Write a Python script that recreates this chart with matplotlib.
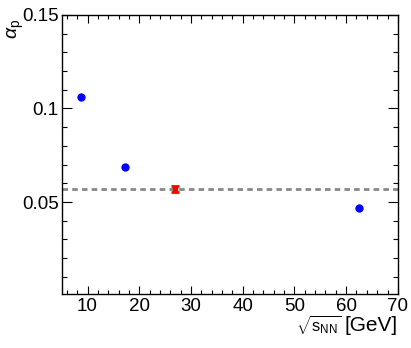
import numpy as np
import matplotlib.pyplot as plt
from matplotlib.ticker import MultipleLocator

plt.rcParams['font.family'] = ['Liberation Sans', 'DejaVu Sans']
plt.rcParams['mathtext.fontset'] = 'custom'
plt.rcParams['mathtext.rm'] = 'Liberation Sans'
plt.rcParams['mathtext.it'] = 'Liberation Sans:italic'

# data
energies = [8.8, 17.3, 62.4]
alpha_p = [0.106, 0.0686, 0.0467]
fit_energy = [27.0]
fit_alpha = [0.0569]
fit_err = [0.0018]
avg_alpha = 0.0569

fig = plt.figure(figsize=(4.11, 3.48), dpi=100)
ax = fig.add_axes([0.150, 0.155, 0.818, 0.802])

ax.axhline(avg_alpha, color='#888888', lw=2, ls=(0, (2, 1.5)), zorder=1)
ax.plot(energies, alpha_p, 'o', color='#0000ff', ms=6, mec='none', zorder=3)
ax.errorbar(fit_energy, fit_alpha, yerr=fit_err, fmt='s', color='#ff0000',
            ms=3, elinewidth=2.5, capsize=3, capthick=2, zorder=4)

ax.set_xlim(5, 70)
ax.set_ylim(0.0008, 0.15)
ax.xaxis.set_major_locator(MultipleLocator(10))
ax.xaxis.set_minor_locator(MultipleLocator(2))
ax.set_yticks([0.05, 0.1, 0.15])
ax.set_yticklabels(['0.05', '0.1', '0.15'])
ax.yaxis.set_minor_locator(MultipleLocator(0.01))
ax.tick_params(which='both', direction='in', top=True, right=True, labelsize=13.5, width=0.8)
ax.tick_params(axis='y', which='major', length=7.2, pad=2)
ax.tick_params(axis='y', which='minor', length=3.6)
ax.tick_params(axis='x', which='major', length=6, pad=3)
ax.tick_params(axis='x', which='minor', length=3)
for s in ax.spines.values():
    s.set_linewidth(1)

# x title: compact sqrt part plus larger unit part
ax.text(1.0, -0.111, '[GeV]', transform=ax.transAxes, ha='right', va='center', fontsize=15)
ax.text(0.832, -0.108, r'$\sqrt{\rm s_{NN}}$', transform=ax.transAxes, ha='right', va='center', fontsize=12)

ax.set_ylabel(r'$\alpha_{\rm p}$', fontsize=14, loc='top')
ax.yaxis.set_label_coords(-0.105, 0.985)

plt.savefig('out.png', dpi=100)
